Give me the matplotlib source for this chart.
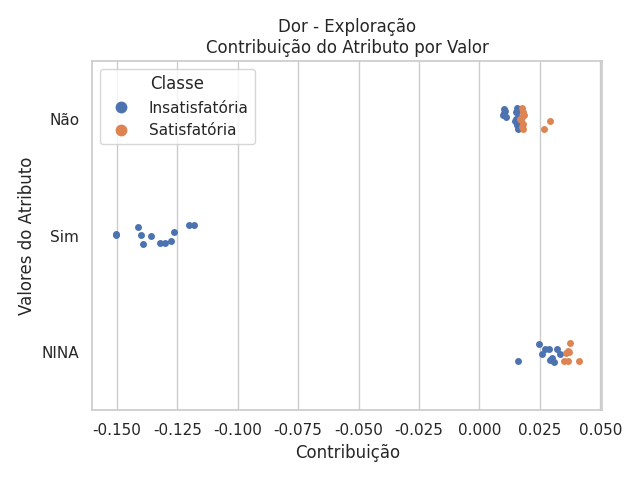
import matplotlib
matplotlib.use("Agg")
import matplotlib.pyplot as plt
import seaborn as sns
from matplotlib.lines import Line2D

sns.set_theme(style="whitegrid")

categories = ["Não", "Sim", "NINA"]
classes = ["Insatisfatória", "Satisfatória"]
colors = ["#4C72B0", "#DD8452"]

# Não
nao_insat_x = [0.0101, 0.0103, 0.0099, 0.0112, 0.0107, 0.0157, 0.0165, 0.0153,
               0.0161, 0.0149, 0.0157, 0.0165, 0.0153, 0.0169, 0.0161, 0.0170]
nao_insat_j = [-0.086, -0.052, -0.034, -0.017, -0.069, -0.095, -0.086, -0.060,
               -0.017, 0.017, 0.052, 0.078, 0.000, -0.077, 0.086, 0.035]
nao_sat_x = [0.0176, 0.0180, 0.0177, 0.0172, 0.0181, 0.0177, 0.0168, 0.0184,
             0.0179, 0.0293, 0.0269]
nao_sat_j = [-0.095, -0.060, -0.017, 0.009, 0.043, 0.069, 0.000, -0.040,
             0.080, 0.017, 0.086]

# Sim
sim_insat_x = [-0.1505, -0.1503, -0.1414, -0.1401, -0.1360, -0.1390, -0.1321,
               -0.1299, -0.1276, -0.1264, -0.1202, -0.1182]
sim_insat_j = [-0.017, -0.005, -0.075, -0.009, 0.003, 0.072, 0.063, 0.060,
               0.049, -0.032, -0.095, -0.095]

# NINA
nina_insat_x = [0.0161, 0.0245, 0.0259, 0.0273, 0.0286, 0.0293, 0.0307, 0.0321,
                0.0335, 0.0302]
nina_insat_j = [0.075, -0.069, 0.017, -0.026, -0.026, 0.069, 0.089, -0.026,
                0.017, 0.049]
nina_sat_x = [0.0375, 0.0365, 0.0358, 0.0348, 0.0365, 0.0412, 0.0372]
nina_sat_j = [-0.075, -0.011, 0.011, 0.075, 0.075, 0.075, 0.000]

fig, ax = plt.subplots(figsize=(6.4, 4.8), dpi=100)

series = [
    (0, 0, nao_insat_x, nao_insat_j),
    (0, 1, nao_sat_x, nao_sat_j),
    (1, 0, sim_insat_x, sim_insat_j),
    (2, 0, nina_insat_x, nina_insat_j),
    (2, 1, nina_sat_x, nina_sat_j),
]
for cat_idx, cls_idx, xs, js in series:
    ys = [cat_idx + j for j in js]
    ax.scatter(xs, ys, s=25, color=colors[cls_idx], linewidth=0, zorder=3)

ax.set_yticks(range(len(categories)))
ax.set_yticklabels(categories)
ax.set_ylim(2.5, -0.5)
ax.yaxis.grid(False)
ticks = [-0.150, -0.125, -0.100, -0.075, -0.050, -0.025, 0.000, 0.025, 0.050]
ax.set_xticks(ticks)
ax.set_xticklabels([f"{v:.3f}" for v in ticks])

ax.set_xlabel("Contribuição")
ax.set_ylabel("Valores do Atributo")
ax.set_title("Dor - Exploração\nContribuição do Atributo por Valor")

handles = [Line2D([], [], marker="o", linestyle="", color=c, markersize=8.5,
                  markeredgewidth=0) for c in colors]
ax.legend(handles, classes, title="Classe", loc="upper left")

fig.tight_layout()
fig.savefig("out.png", dpi=100)
